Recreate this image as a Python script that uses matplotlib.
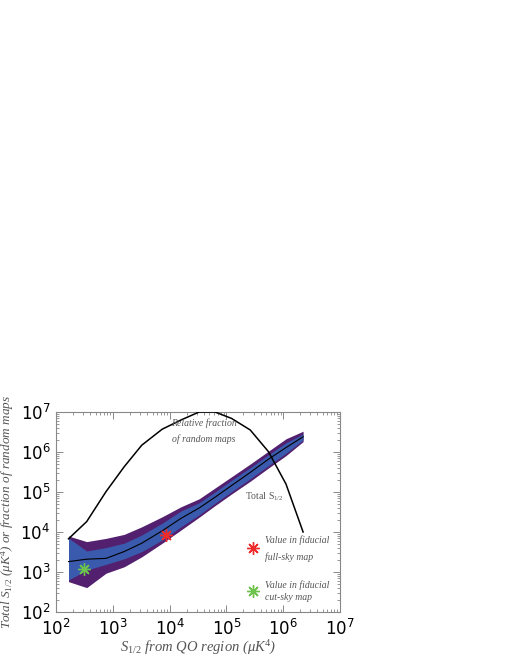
import numpy as np
import matplotlib
matplotlib.use('Agg')
import matplotlib.pyplot as plt
from matplotlib.ticker import LogLocator, NullFormatter

# ---- data ----
x_nodes = [166, 347, 759, 1585, 3236, 7413, 15850, 33110, 63100, 123000,
           263000, 550000, 1.12e6, 2.24e6]
fraction = [6760, 18200, 102000, 427000, 1.48e6, 3.72e6, 6.31e6, 1.0e7,
            1.0e7, 6.92e6, 3.55e6, 1.02e6, 158000, 10000]
median = [1820, 2090, 2190, 3240, 5250, 10700, 21900, 39800, 74100, 145000,
          309000, 661000, 1.29e6, 2.40e6]
outer_hi = [7940, 5750, 6920, 8710, 13500, 24000, 42700, 67600, 126000,
            240000, 501000, 1.05e6, 2.14e6, 3.31e6]
inner_hi = [7080, 3350, 4070, 5250, 8410, 16600, 33500, 53700, 100000,
            195000, 407000, 851000, 1.70e6, 2.82e6]
inner_lo = [631, 1120, 1550, 2140, 3240, 6310, 13500, 26900, 52500, 102000,
            214000, 457000, 933000, 2.00e6]
outer_lo = [575, 407, 933, 1350, 2400, 5250, 11200, 23400, 45700, 89100,
            186000, 398000, 813000, 1.82e6]
full_sky = (8700, 8400)
cut_sky = (316, 1190)
legend_full = (2.97e5, 3900)
legend_cut = (2.97e5, 340)

plt.rcParams['mathtext.fontset'] = 'custom'
plt.rcParams['mathtext.rm'] = 'Liberation Serif'
plt.rcParams['mathtext.it'] = 'Liberation Serif:italic'

fig = plt.figure(figsize=(5.1, 6.6), dpi=100)
ax = fig.add_axes([56/510, 1-612/660, (340-56)/510, 200/660])

purple = '#52206e'
blue = '#3a5aae'
ax.fill_between(x_nodes, outer_lo, outer_hi, color=purple, lw=0, zorder=1)
ax.fill_between(x_nodes, inner_lo, inner_hi, color=blue, lw=0, zorder=2)
ax.plot(x_nodes, median, color='black', lw=0.8, zorder=3)
ax.plot(x_nodes, fraction, color='black', lw=1.1, zorder=3, clip_on=True)

ast = (8, 2, 0)
ax.plot(*full_sky, marker=ast, ms=9, mew=1.0, color='#ee2b2b', zorder=4)
ax.plot(*cut_sky, marker=ast, ms=9, mew=1.0, color='#6cc24a', zorder=4)
ax.plot(*legend_full, marker=ast, ms=9, mew=1.0, color='#ee2b2b', zorder=4)
ax.plot(*legend_cut, marker=ast, ms=9, mew=1.0, color='#6cc24a', zorder=4)

ax.set_xscale('log')
ax.set_yscale('log')
ax.set_xlim(1e2, 1e7)
ax.set_ylim(1e2, 1e7)
for axis in (ax.xaxis, ax.yaxis):
    axis.set_major_locator(LogLocator(base=10, numticks=20))
    axis.set_minor_locator(LogLocator(base=10, subs=np.arange(2, 10), numticks=20))
    axis.set_minor_formatter(NullFormatter())

gray = '#888888'
for s in ax.spines.values():
    s.set_color(gray)
    s.set_linewidth(0.8)
ax.tick_params(which='both', direction='in', top=True, right=True, color=gray)
ax.tick_params(which='major', length=5, width=0.7, labelsize=12, pad=5)
ax.tick_params(which='minor', length=2.5, width=0.6)
ax.tick_params(axis='y', pad=4)

lab = dict(family='Liberation Serif', style='italic', color='#555555')
ax.set_xlabel(r'$S_{1/2}$ from QO region (μK$^4$)', fontsize=10.5, labelpad=0, **lab)
ax.set_ylabel(r'Total $S_{1/2}$ (μK$^4$) or fraction of random maps', fontsize=9.5,
              labelpad=3, **lab)

ann = dict(family='Liberation Serif', style='italic', color='#555555', fontsize=7)
ax.text(0.52, 0.945, 'Relative fraction', transform=ax.transAxes, ha='center', va='center', **ann)
ax.text(0.52, 0.865, 'of random maps', transform=ax.transAxes, ha='center', va='center', **ann)
ax.text(0.735, 0.575, r'Total $\mathrm{S}_{1/2}$', transform=ax.transAxes, ha='center', va='center',
        family='Liberation Serif', color='#555555', fontsize=7)
ax.text(0.735, 0.36, 'Value in fiducial', transform=ax.transAxes, ha='left', va='center', **ann)
ax.text(0.735, 0.275, 'full-sky map', transform=ax.transAxes, ha='left', va='center', **ann)
ax.text(0.735, 0.135, 'Value in fiducial', transform=ax.transAxes, ha='left', va='center', **ann)
ax.text(0.735, 0.07, 'cut-sky map', transform=ax.transAxes, ha='left', va='center', **ann)

fig.savefig('out.png', dpi=100)
